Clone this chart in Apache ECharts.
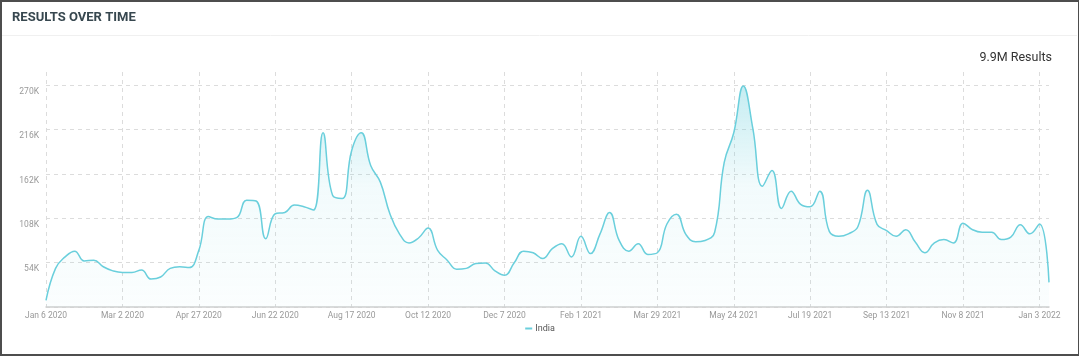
<!DOCTYPE html>
<html>
<head>
<meta charset="utf-8">
<script src="https://cdn.jsdelivr.net/npm/echarts@6/dist/echarts.min.js"></script>
<style>
html,body{margin:0;padding:0;background:#fff;}
#frame{position:absolute;left:0;top:0;width:1079px;height:356px;box-sizing:border-box;border:2px solid #4d4d4d;border-right-width:1.5px;}
#chart{position:absolute;left:0;top:0;width:1080px;height:356px;}
</style>
</head>
<body>
<div id="frame"></div>
<div id="chart"></div>
<script>
const titleText = 'RESULTS OVER TIME';
const totalText = '9.9M Results';
const seriesName = 'India';
// weekly dates starting Jan 6 2020
const startDate = new Date(Date.UTC(2020, 0, 6));
const monthNames = ['Jan','Feb','Mar','Apr','May','Jun','Jul','Aug','Sep','Oct','Nov','Dec'];
const values = [
  8000, 47000, 61000, 68000, 56000, 57000, 49000, 44000, 42000, 42000,
  45000, 34000, 36500, 47000, 49000, 48000, 69000, 110000, 107000, 107000,
  109000, 130000, 129000, 83000, 113500, 115000, 124000, 122000, 118000, 212000,
  136000, 132000, 190500, 212000, 172000, 152000, 113500, 89000, 78000, 84000,
  96000, 69000, 57000, 46000, 47000, 53000, 53500, 44000, 38500, 53500,
  68000, 66000, 59000, 71000, 77000, 61000, 86000, 65000, 89000, 115000,
  81000, 68000, 77000, 64000, 66000, 101000, 113000, 88000, 79500, 81000,
  91000, 176000, 212000, 269000, 217000, 147000, 166000, 120000, 141000, 125000,
  122000, 141000, 92000, 86000, 89000, 98000, 142000, 100500, 93000, 86000,
  94000, 79000, 66000, 78000, 82000, 78000, 102000, 94000, 91000, 91000,
  82000, 85000, 100000, 89000, 101000, 30000
];
const categories = values.map((v, i) => {
  const d = new Date(startDate.getTime() + i * 7 * 86400000);
  return monthNames[d.getUTCMonth()] + ' ' + d.getUTCDate() + ' ' + d.getUTCFullYear();
});
const yTickStep = 54000;

const chart = echarts.init(document.getElementById('chart'), null, {renderer: 'canvas'});
chart.setOption({
  animation: false,
  textStyle: {fontFamily: 'Roboto'},
  title: [
    {text: titleText, left: 7, top: 6, textStyle: {fontFamily: 'Roboto', fontSize: 13, fontWeight: 'bold', color: '#37474f'}},
    {text: totalText, right: 23, top: 46, textStyle: {fontFamily: 'Roboto', fontSize: 12.5, fontWeight: 'normal', color: '#333'}}
  ],
  graphic: [
    {type: 'line', shape: {x1: 2, y1: 35.5, x2: 1077, y2: 35.5}, style: {stroke: '#f0f0f0', lineWidth: 1}}
  ],
  legend: {
    data: [seriesName], left: 'center', top: 319,
    icon: 'rect', itemWidth: 7, itemHeight: 2, itemGap: 4,
    textStyle: {fontFamily: 'Roboto', fontSize: 9, color: '#555', padding: [0,0,0,-2]}
  },
  grid: {left: 46, right: 31, top: 72, bottom: 49, containLabel: false},
  xAxis: {
    type: 'category', data: categories, boundaryGap: false,
    axisLine: {show: true, lineStyle: {color: '#cfcfcf', width: 1.5}},
    axisTick: {show: false},
    axisLabel: {interval: 7, color: '#999', fontSize: 8.5, margin: 4, fontFamily: 'Roboto'},
    splitLine: {show: true, interval: 7, lineStyle: {type: [4, 4], color: '#dcdcdc', width: 1}}
  },
  yAxis: {
    type: 'value', min: 0, max: 286000, interval: yTickStep,
    axisLine: {show: false}, axisTick: {show: false},
    axisLabel: {
      color: '#999', fontSize: 8.5, margin: 7, verticalAlign: 'top', padding: [2,0,0,0], fontFamily: 'Roboto',
      formatter: v => (v > 0 && v % yTickStep === 0) ? (v / 1000) + 'K' : ''
    },
    splitLine: {show: true, lineStyle: {type: [4, 4], width: 1,
      color: ['#dcdcdc','#dcdcdc','#dcdcdc','#dcdcdc','#dcdcdc','#dcdcdc','rgba(0,0,0,0)']}}
  },
  series: [{
    name: seriesName, type: 'line', data: values, smooth: 0.45,
    showSymbol: false, symbol: 'none',
    lineStyle: {color: '#6acfdc', width: 1.5},
    itemStyle: {color: '#6acfdc'},
    areaStyle: {color: new echarts.graphic.LinearGradient(0, 0, 0, 1, [
      {offset: 0, color: 'rgba(106,207,220,0.55)'},
      {offset: 0.45, color: 'rgba(106,207,220,0.12)'},
      {offset: 1, color: 'rgba(106,207,220,0.04)'}
    ])}
  }]
});
</script>
</body>
</html>
